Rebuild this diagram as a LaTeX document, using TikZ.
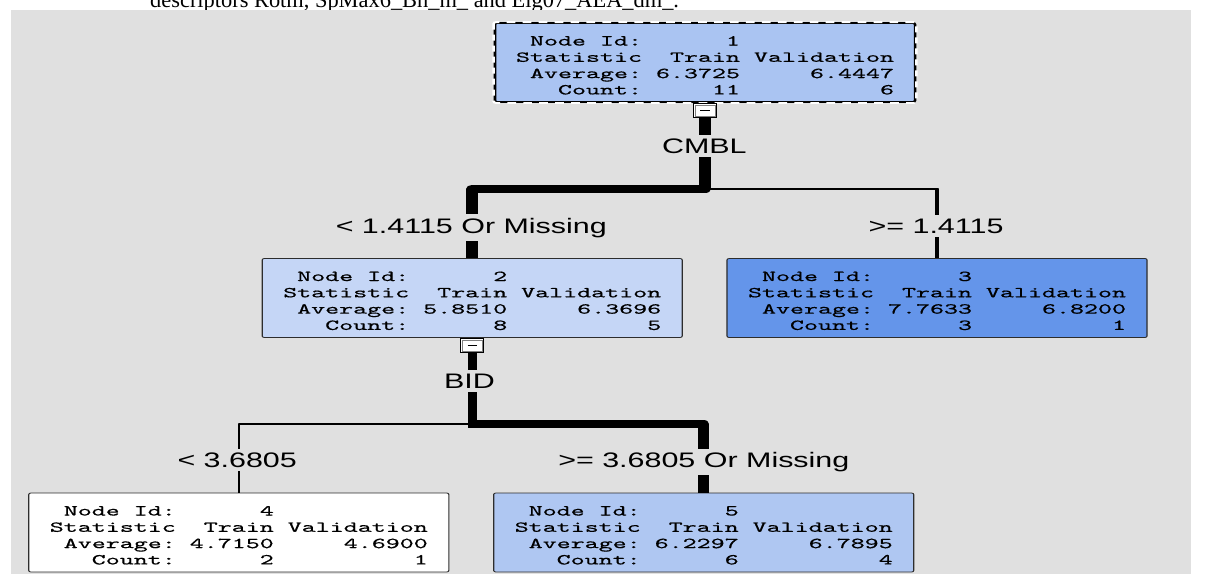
\documentclass[tikz,border=0pt]{standalone}
\usepackage{fontspec}
\newfontfamily\boxmono{lmmono10-regular.otf}[FakeStretch=1.21, FakeBold=0.5]
\newfontfamily\labelsans{Liberation Sans}
\newfontfamily\captionserif{Liberation Serif}

\definecolor{panelgray}{RGB}{224,224,224}
\definecolor{boxedge}{RGB}{45,45,45}
\definecolor{rootfill}{RGB}{170,196,242}
\definecolor{leftfill}{RGB}{197,214,246}
\definecolor{highfill}{RGB}{100,149,234}
\definecolor{midfill}{RGB}{175,199,242}

% four-row statistics table of a tree node, set a little below centre
\newcommand\statrows[5]{\raisebox{-4.2pt}[\height][\depth]{\begin{tabular}{@{}r@{\ }r@{\ }r@{}}
Node Id: & #1 & \\
Statistic & Train & Validation\\
Average: & #2 & #3\\
Count: & #4 & #5
\end{tabular}}}

\tikzset{
  statbox/.style={rectangle, draw=boxedge, line width=0.8pt, rounded corners=1.5pt,
    minimum width=289.7pt, minimum height=79pt, inner sep=0pt,
    font=\boxmono\fontsize{15.2}{16.3}\selectfont},
  togglebox/.style={rectangle, draw=black, fill=white, line width=0.9pt,
    minimum width=15.9pt, minimum height=14.5pt, inner sep=0pt, anchor=north},
  branch/.style={draw=black, line width=#1, line join=round},
  splitlabel/.style={fill=panelgray, inner sep=3.5pt, anchor=base,
    font=\labelsans\fontsize{21}{25}\selectfont},
}

\begin{document}
\begin{tikzpicture}[x=1pt,y=-1pt]
\useasboundingbox (0,0) rectangle (1209,574);
\fill[white] (0,0) rectangle (1209,574);
\node[anchor=base west, inner sep=0pt, font=\captionserif\fontsize{22.4}{27}\selectfont]
  (caption) at (150,7) {descriptors Rotm, SpMax6\_Bh\_m\_ and Eig07\_AEA\_dm\_.};
\fill[panelgray] (11,10) rectangle (1191,574);

\begin{scope}[transform canvas={xscale=1.45}, x=0.68966pt, y=-1pt]
  % tree nodes
  \node[statbox, fill=rootfill, draw=black, line width=1.8pt] (n1) at (705,62.5) {\statrows{1}{6.3725}{6.4447}{11}{6}};
  \draw[white, line width=1.8pt, rounded corners=1.5pt, dash pattern=on 6pt off 5pt]
    (n1.north west) rectangle (n1.south east);
  \node[statbox, fill=leftfill] (n2) at (472.2,298) {\statrows{2}{5.8510}{6.3696}{8}{5}};
  \node[statbox, fill=highfill] (n3) at (937,298) {\statrows{3}{7.7633}{6.8200}{3}{1}};
  \node[statbox, fill=white] (n4) at (238.8,532.5) {\statrows{4}{4.7150}{4.6900}{2}{1}};
  \node[statbox, fill=midfill] (n5) at (703.7,532.5) {\statrows{5}{6.2297}{6.7895}{6}{4}};

  % collapse toggles under the split nodes
  \foreach \t/\p in {t1/n1, t2/n2} {
    \node[togglebox] (\t) at (\p.south) {};
    \draw[gray, line width=0.6pt] ([shift={(2.2,2.2)}]\t.north west) rectangle ([shift={(-2.2,-2.2)}]\t.south east);
    \draw[black, line width=1.2pt] ([xshift=-3.2pt]\t.center) -- ([xshift=3.2pt]\t.center);
  }

  % split levels
  \coordinate (s1) at (0,189);
  \coordinate (s2) at (0,424);

  % branches, width by node count
  \draw[branch=8.4pt] (t1.south) -- (t1.south |- s1) -| (n2.north);
  \draw[branch=2.8pt] (t1.south |- s1) -| (n3.north);
  \draw[branch=6.4pt] (t2.south) -- ([yshift=-3.8pt]t2.south |- s2);
  \draw[branch=7.6pt] (t2.south |- s2) -| (n5.north);
  \draw[branch=1.8pt] (t2.south |- s2) -| (n4.north);

  % split variables and rules
  \node[splitlabel] (v1) at (704.3,153.3) {CMBL};
  \node[splitlabel] (r12) at (471.3,233) {< 1.4115 Or Missing};
  \node[splitlabel] (r13) at (936,233) {>= 1.4115};
  \node[splitlabel] (v2) at (469.5,388) {BID};
  \node[splitlabel] (r24) at (237.2,467.5) {< 3.6805};
  \node[splitlabel] (r25) at (703.8,467.5) {>= 3.6805 Or Missing};
\end{scope}
\end{tikzpicture}
\end{document}
